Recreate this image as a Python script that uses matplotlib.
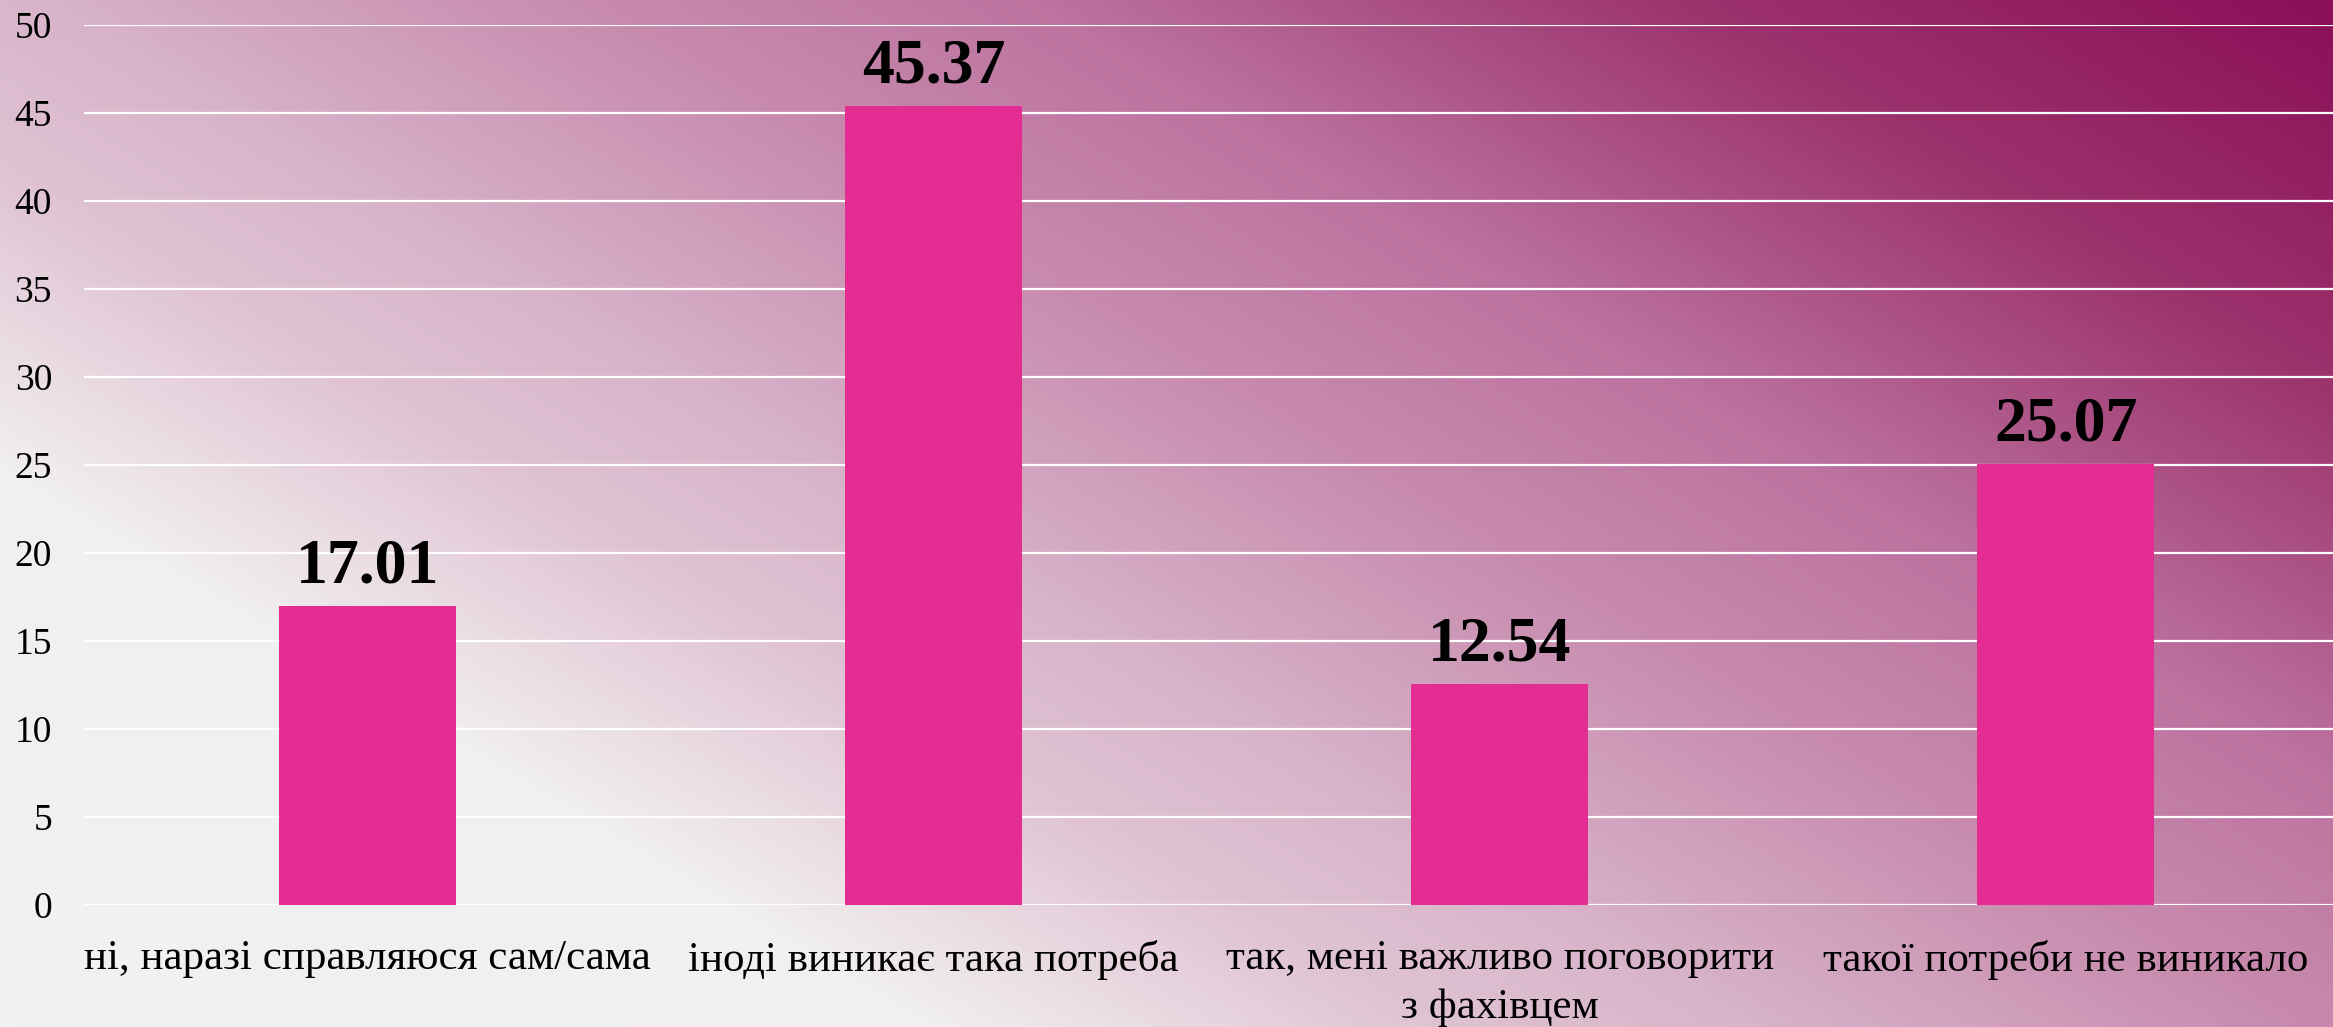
"""Bar chart: need for talking to a specialist (%), on a diagonal magenta gradient."""

import numpy as np
import matplotlib
matplotlib.use("Agg")
import matplotlib.pyplot as plt
from matplotlib.colors import LinearSegmentedColormap

# ── data ─────────────────────────────────────────────────────────────────────
categories = [
    "ні, наразі справляюся сам/сама",
    "іноді виникає така потреба",
    "так, мені важливо поговорити\nз фахівцем",
    "такої потреби не виникало",
]
values = [17.01, 45.37, 12.54, 25.07]
y_ticks = list(range(0, 55, 5))

# ── style ────────────────────────────────────────────────────────────────────
BAR_COLOR = "#E32D92"
FONT = ["Liberation Serif", "DejaVu Serif"]
W, H, DPI = 2333, 1027, 100

plt.rcParams["font.family"] = FONT

fig = plt.figure(figsize=(W / DPI, H / DPI), dpi=DPI)

# background gradient: light grey in the bottom-left, deep magenta top-right
bg = fig.add_axes([0, 0, 1, 1], zorder=0)
xx, yy = np.meshgrid(np.arange(W), np.arange(H))
s = 0.6 * xx + (H - yy)
s = s / s.max()
grad_cmap = LinearSegmentedColormap.from_list(
    "bg",
    [(0.00, "#F2F2F2"), (0.23, "#F1EFF0"), (0.35, "#E0C4D3"),
     (0.43, "#D8B4CA"), (0.57, "#C78AAD"), (0.68, "#BC739F"),
     (0.84, "#9C336D"), (1.00, "#8B0F58")],
)
bg.imshow(s, cmap=grad_cmap, aspect="auto", origin="upper",
          extent=[0, 1, 0, 1], interpolation="bilinear")
bg.set_axis_off()

ax = fig.add_axes([84 / W, 122 / H, 2265 / W, 880 / H], zorder=1)
ax.patch.set_alpha(0)

x = np.arange(len(categories))
ax.bar(x, values, width=0.313, color=BAR_COLOR, zorder=3)

for xi, v in zip(x, values):
    ax.annotate(f"{v:.2f}", (xi, v), xytext=(0, 17), textcoords="offset points",
                ha="center", va="baseline", fontsize=46, fontweight="bold",
                color="black", zorder=4)

ax.set_xlim(-0.5, len(categories) - 0.5)
ax.set_ylim(0, 50)
ax.set_yticks(y_ticks)
ax.set_xticks(x)
ax.set_xticklabels(categories, fontsize=31, linespacing=1.35)
ax.tick_params(axis="y", length=0, pad=23, labelsize=27)
ax.tick_params(axis="x", length=0, pad=25)
ax.yaxis.grid(True, color="white", linewidth=1.6, zorder=1)
ax.set_axisbelow(True)
for sp in ax.spines.values():
    sp.set_visible(False)

fig.savefig("out.png", dpi=DPI)
